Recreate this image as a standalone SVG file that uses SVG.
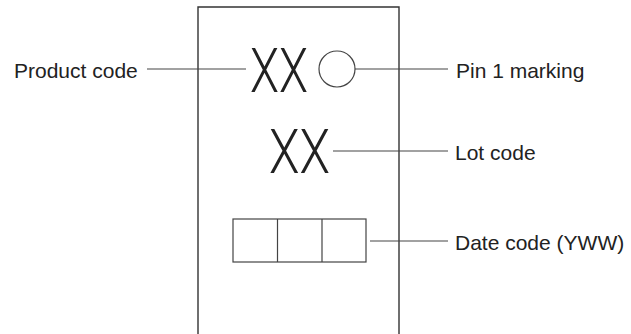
<svg xmlns="http://www.w3.org/2000/svg" width="631" height="334" viewBox="0 0 631 334">
<style>
.lbl{font-family:"Liberation Sans",Arial,sans-serif;font-size:21px;fill:#222}
.xx{font-family:Roboto,"Liberation Sans",sans-serif;font-weight:300;font-size:62px;fill:#222}
.ln{stroke:#444;stroke-width:1.2;fill:none}
.bd{stroke:#333;stroke-width:1.4;fill:none}
</style>
<rect width="631" height="334" fill="#fff"/>
<g id="package"><path class="bd" d="M198,340 V7 H399 V340"/></g>
<g id="product-code">
<text class="xx" x="250" y="92" textLength="58" lengthAdjust="spacingAndGlyphs">XX</text>
<text class="lbl" x="14" y="77.5">Product code</text>
</g>
<g id="pin1">
<circle cx="337" cy="69" r="18" class="ln"/>
<text class="lbl" x="456" y="77.5">Pin 1 marking</text>
</g>
<g id="lot-code">
<text class="xx" x="269" y="173" textLength="61" lengthAdjust="spacingAndGlyphs">XX</text>
<text class="lbl" x="455" y="160">Lot code</text>
</g>
<g id="date-code">
<rect x="233" y="219" width="133" height="43" class="ln"/>
<line x1="277.5" y1="219" x2="277.5" y2="262" class="ln"/>
<line x1="322" y1="219" x2="322" y2="262" class="ln"/>
<text class="lbl" x="455" y="250">Date code (YWW)</text>
</g>
<g id="connectors">
<line class="ln" x1="147" y1="69" x2="246" y2="69"/>
<line class="ln" x1="355" y1="69" x2="448" y2="69"/>
<line class="ln" x1="333" y1="151" x2="448" y2="151"/>
<line class="ln" x1="370" y1="241" x2="448" y2="241"/>
</g>
</svg>
